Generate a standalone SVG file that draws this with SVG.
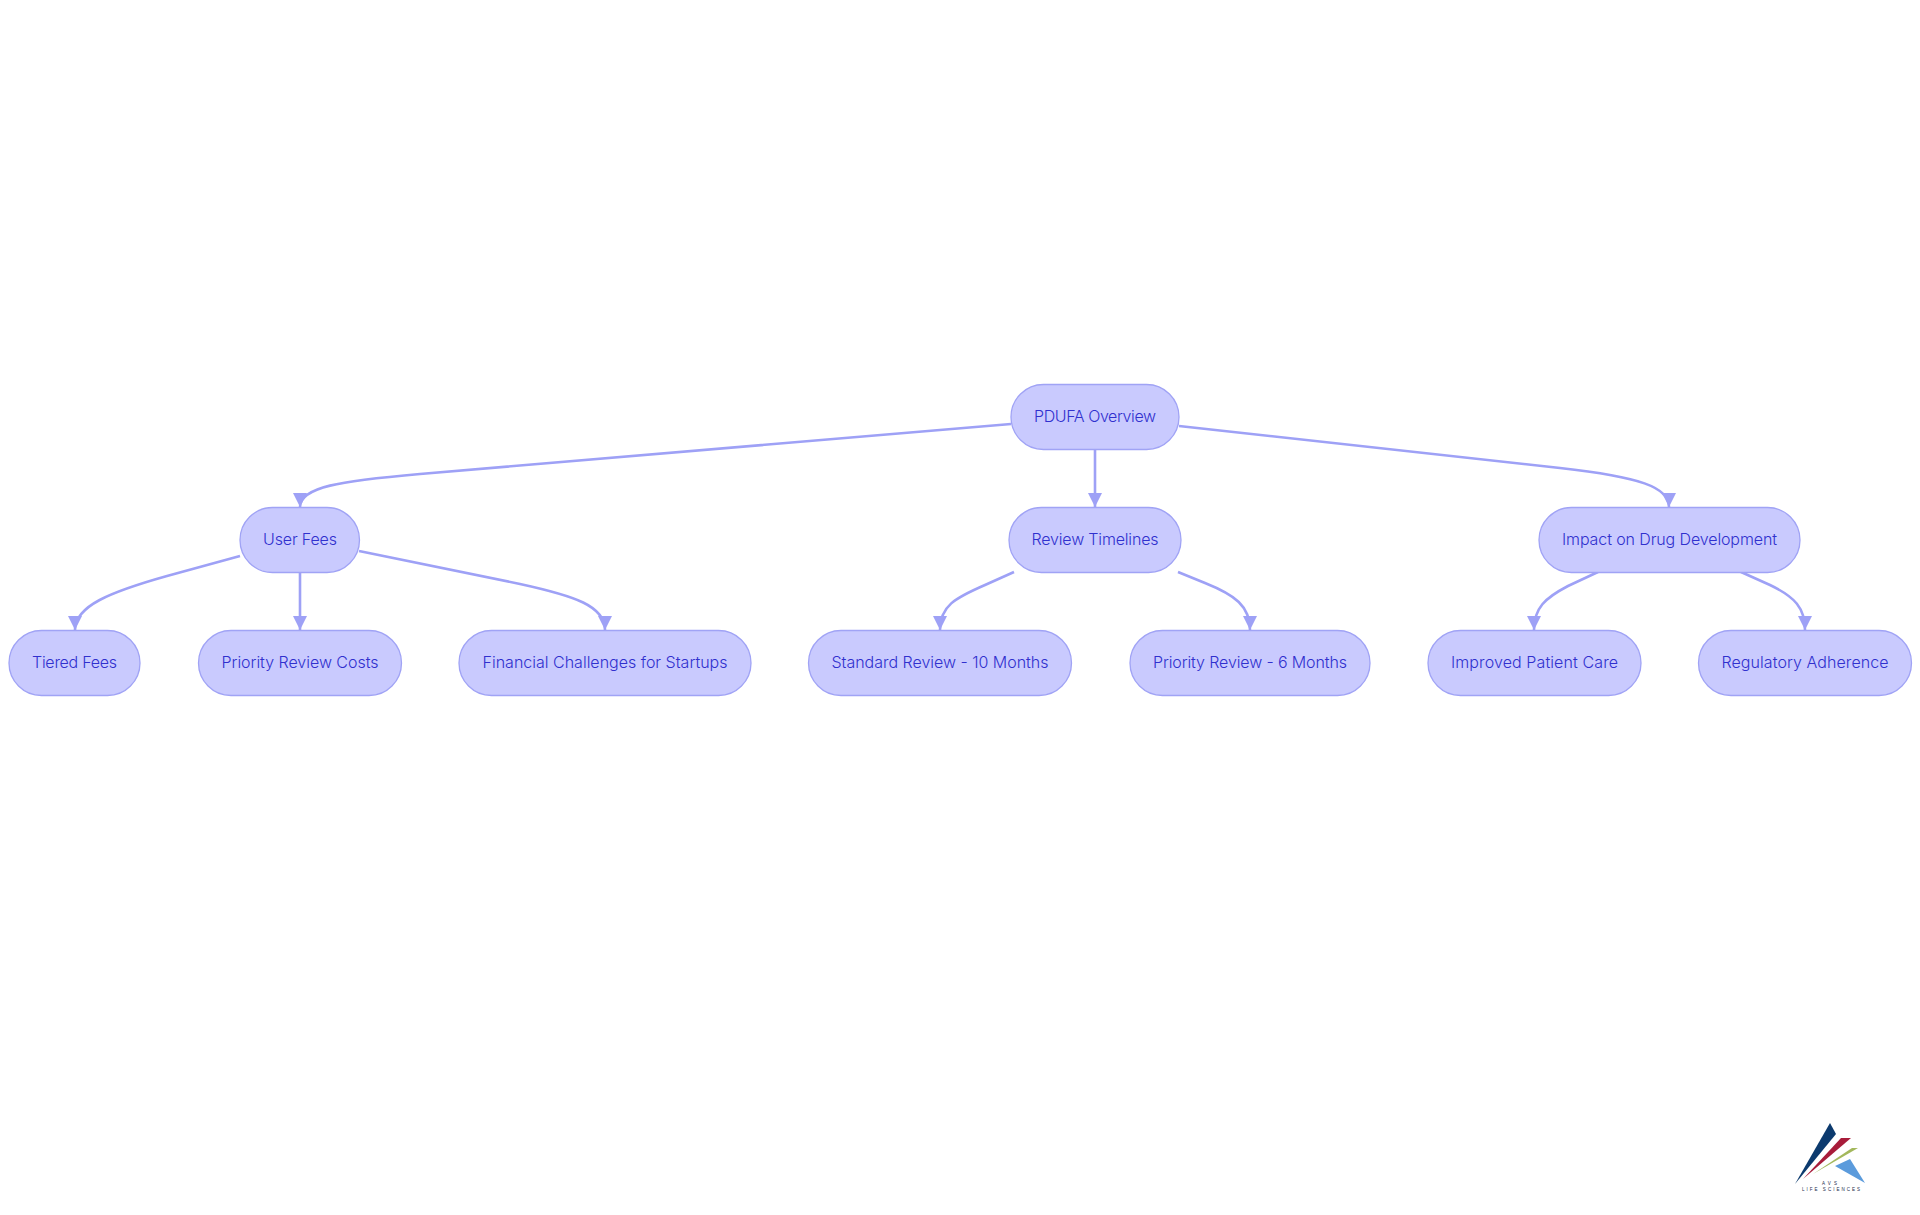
<svg xmlns="http://www.w3.org/2000/svg" width="1920" height="1215" viewBox="0 0 1920 1215">
<style>
.n rect{fill:#c9cafe;stroke:#a0a3f5;stroke-width:1.3}
.n text{font-family:Inter,"Liberation Sans",sans-serif;font-size:16px;font-weight:300;fill:#3030ce;text-anchor:middle;dominant-baseline:central}
#edges path{fill:none;stroke:#9ea1f6;stroke-width:2.6;marker-end:url(#a)}
.lg{font-family:"Liberation Sans",sans-serif;font-size:4.5px;fill:#1a2a4a}
</style>
<defs><marker id="a" markerUnits="userSpaceOnUse" markerWidth="16" markerHeight="16" refX="14.500" refY="8" orient="auto"><path d="M0.500 1L14.500 8L0.500 15Z" fill="#9ea1f6"/></marker></defs>
<rect width="1920" height="1215" fill="#fff"/>
<g id="edges">
<path d="M1011 424L420 474C340 481 300 487 300 507"/>
<path d="M1095 449V507"/>
<path d="M1179 426L1560 468C1640 477 1669 487 1669 507"/>
<path d="M240 556L167 576C110 592 75 606 75 630"/>
<path d="M300 572V630"/>
<path d="M359 551L520 584C575 596 605 606 605 630"/>
<path d="M1014 572L985 585C955 598 940 606 940 630"/>
<path d="M1178 572L1205 583C1235 595 1250 606 1250 630"/>
<path d="M1598 572L1568 586C1545 598 1534 608 1534 630"/>
<path d="M1741 572L1770 585C1795 597 1805 608 1805 630"/>
</g>
<g id="n1" class="n"><rect x="1011" y="384.500" width="168" height="65" rx="32.5"/><text x="1095" y="415.500" textLength="122">PDUFA Overview</text></g>
<g id="n2" class="n"><rect x="240" y="507.500" width="119.500" height="65" rx="32.5"/><text x="300" y="538.500" textLength="74">User Fees</text></g>
<g id="n3" class="n"><rect x="1009" y="507.500" width="172" height="65" rx="32.5"/><text x="1095" y="538.500" textLength="127">Review Timelines</text></g>
<g id="n4" class="n"><rect x="1539" y="507.500" width="261" height="65" rx="32.5"/><text x="1669.500" y="538.500" textLength="215">Impact on Drug Development</text></g>
<g id="n5" class="n"><rect x="9" y="630.500" width="131" height="65" rx="32.5"/><text x="74.500" y="661.500" textLength="85">Tiered Fees</text></g>
<g id="n6" class="n"><rect x="198.500" y="630.500" width="203" height="65" rx="32.5"/><text x="300" y="661.500" textLength="157">Priority Review Costs</text></g>
<g id="n7" class="n"><rect x="459" y="630.500" width="292" height="65" rx="32.5"/><text x="605" y="661.500" textLength="245">Financial Challenges for Startups</text></g>
<g id="n8" class="n"><rect x="808.500" y="630.500" width="263" height="65" rx="32.5"/><text x="940" y="661.500" textLength="217">Standard Review - 10 Months</text></g>
<g id="n9" class="n"><rect x="1130" y="630.500" width="240" height="65" rx="32.5"/><text x="1250" y="661.500" textLength="194">Priority Review - 6 Months</text></g>
<g id="n10" class="n"><rect x="1428" y="630.500" width="213" height="65" rx="32.5"/><text x="1534.500" y="661.500" textLength="167">Improved Patient Care</text></g>
<g id="n11" class="n"><rect x="1698.500" y="630.500" width="213" height="65" rx="32.5"/><text x="1805" y="661.500" textLength="167">Regulatory Adherence</text></g>
<g id="logo">
<polygon points="1795,1184 1830,1123 1836,1134" fill="#0c3a6e"/>
<polygon points="1803,1179 1841,1138 1851,1138" fill="#a81c3a"/>
<polygon points="1813,1174 1852,1148 1858,1148" fill="#a3b85c"/>
<polygon points="1835,1166 1850,1159 1865,1183" fill="#5b9bdc"/>
<text class="lg" x="1822" y="1185" textLength="15">AVS</text>
<text class="lg" x="1802" y="1191" textLength="58">LIFE SCIENCES</text>
</g>
</svg>
